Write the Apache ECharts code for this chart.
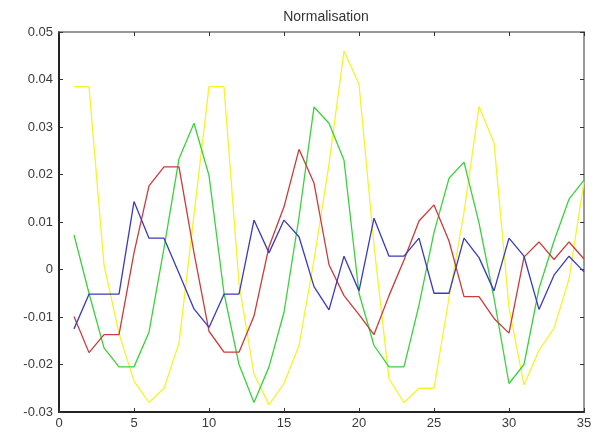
<!DOCTYPE html>
<html>
<head>
<meta charset="utf-8">
<script src="https://cdn.jsdelivr.net/npm/echarts@6/dist/echarts.min.js"></script>
<style>
html,body{margin:0;padding:0;background:#fff;}
#chart{width:599px;height:434px;}
</style>
</head>
<body>
<div id="chart"></div>
<script>
var xs = [1,2,3,4,5,6,7,8,9,10,11,12,13,14,15,16,17,18,19,20,21,22,23,24,25,26,27,28,29,30,31,32,33,34,35];
var yellowVals = [0.0385,0.0385,0.001,-0.0135,-0.0235,-0.028,-0.025,-0.0155,0.0115,0.0385,0.0385,-0.003,-0.022,-0.0285,-0.024,-0.016,0.002,0.0222,0.046,0.039,0.005,-0.023,-0.028,-0.025,-0.025,-0.006,0.012,0.0343,0.0267,-0.008,-0.0243,-0.017,-0.0124,-0.002,0.0185];
var greenVals = [0.0073,-0.005,-0.0165,-0.0205,-0.0205,-0.0132,0.0045,0.0233,0.0308,0.0198,-0.005,-0.02,-0.028,-0.0205,-0.009,0.011,0.0342,0.0308,0.023,-0.005,-0.016,-0.0205,-0.0205,-0.0075,0.0078,0.0192,0.0226,0.0098,-0.006,-0.024,-0.02,-0.004,0.006,0.0148,0.0188];
var redVals = [-0.0099,-0.0175,-0.0137,-0.0137,0.0035,0.0176,0.0216,0.0216,0.0035,-0.013,-0.0174,-0.0174,-0.0098,0.0048,0.0132,0.0253,0.0182,0.001,-0.0055,-0.0095,-0.0137,-0.0055,0.002,0.0102,0.0136,0.006,-0.0057,-0.0057,-0.0103,-0.0134,0.0026,0.0058,0.0021,0.0058,0.0022];
var blueVals = [-0.0125,-0.0052,-0.0052,-0.0052,0.0143,0.0066,0.0066,-0.0008,-0.0083,-0.0122,-0.0052,-0.0052,0.0104,0.0035,0.0104,0.0069,-0.0036,-0.0085,0.0028,-0.0045,0.0108,0.0028,0.0028,0.0066,-0.005,-0.005,0.0066,0.0025,-0.0045,0.0066,0.0028,-0.0084,-0.0012,0.0028,-0.0005];
var titleText = 'Normalisation';

function pairs(vals){ return xs.map(function(x,i){ return [x, vals[i]]; }); }

var chart = echarts.init(document.getElementById('chart'), null, {renderer:'canvas'});
var labelFont = {fontFamily:'Liberation Sans', fontSize:13, color:'#3a3a3a'};
function mkX(pos, main){
  return {type:'value', position:pos, min:0, max:35, interval:5,
    axisLine:{show:true, onZero:false, lineStyle:{color: main?'#222':'#777', width: main?2:1.5}},
    axisTick:{show:true, inside:true, length:4, lineStyle:{color:'#333'}},
    axisLabel:Object.assign({show:main, margin:5}, labelFont),
    splitLine:{show:false}};
}
function mkY(pos, main){
  return {type:'value', position:pos, min:-0.03, max:0.05, interval:0.01,
    axisLine:{show:true, onZero:false, lineStyle:{color: main?'#222':'#777', width: main?2:1.5}},
    axisTick:{show:true, inside:true, length:4, lineStyle:{color:'#333'}},
    axisLabel:Object.assign({show:main, margin:6, formatter:function(v){ return Math.abs(v)<1e-9 ? '0' : v.toFixed(2); }}, labelFont),
    splitLine:{show:false}};
}
function mkSeries(vals, color){
  return {type:'line', data:pairs(vals), symbol:'none', xAxisIndex:0, yAxisIndex:0,
    lineStyle:{color:color, width:1.3}, itemStyle:{color:color}, animation:false};
}
chart.setOption({
  animation:false,
  backgroundColor:'#fff',
  title:{text:titleText, left:321, top:5, textAlign:'center',
    textStyle:{fontFamily:'Liberation Sans', fontSize:14, fontWeight:'normal', color:'#333'}},
  grid:{left:59, right:15, top:32, bottom:22, containLabel:false},
  xAxis:[mkX('bottom', true), mkX('top', false)],
  yAxis:[mkY('left', true), mkY('right', false)],
  series:[
    mkSeries(yellowVals, '#f4f42a'),
    mkSeries(greenVals, '#3ad23a'),
    mkSeries(redVals, '#cc3a3a'),
    mkSeries(blueVals, '#3a3abf')
  ]
});
</script>
</body>
</html>
